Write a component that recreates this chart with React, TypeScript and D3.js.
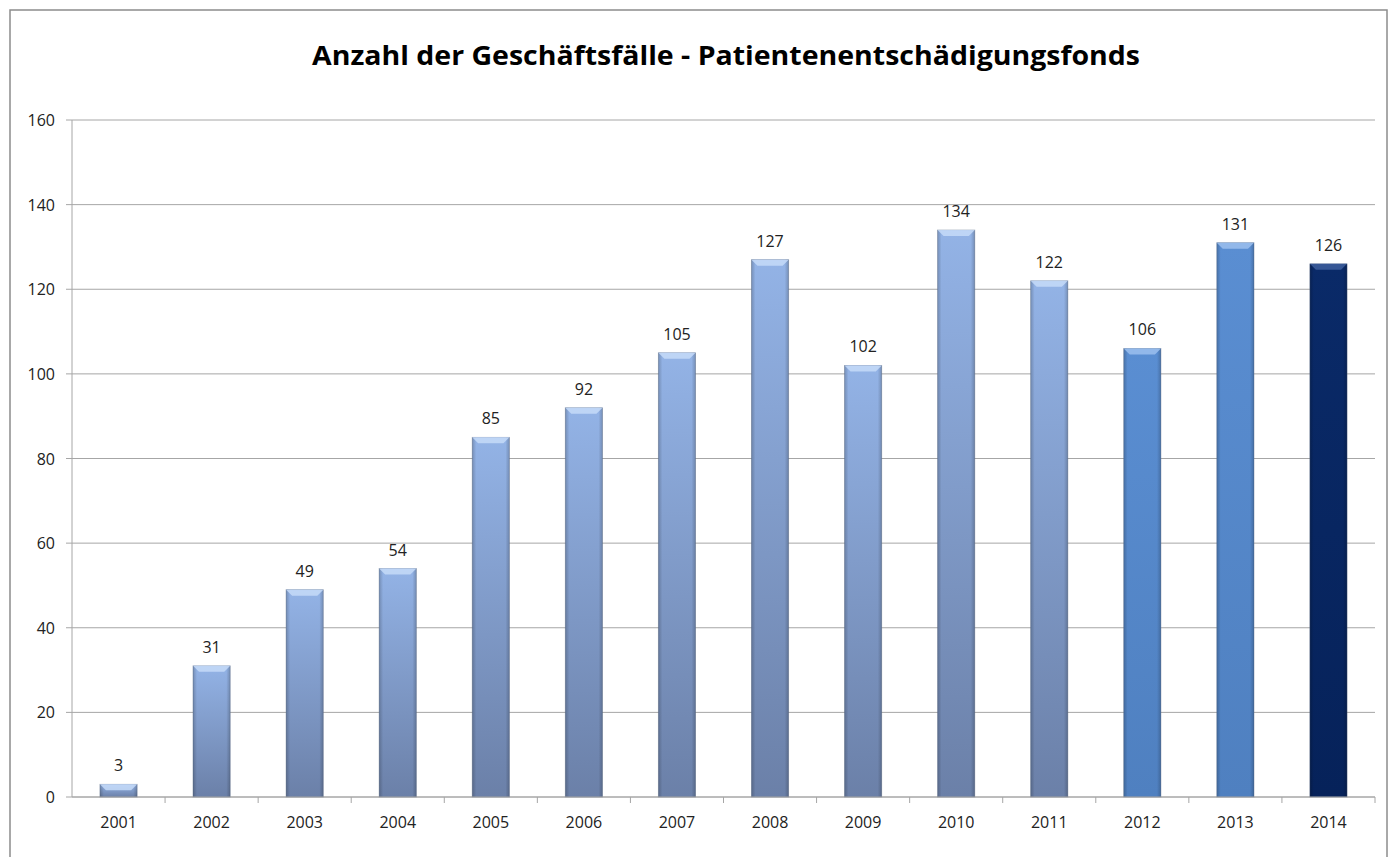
import React from 'react';
import * as d3 from 'd3';

const years = ['2001', '2002', '2003', '2004', '2005', '2006', '2007', '2008', '2009', '2010', '2011', '2012', '2013', '2014'];
const cases = [3, 31, 49, 54, 85, 92, 105, 127, 102, 134, 122, 106, 131, 126];
const barStyle = ['soft', 'soft', 'soft', 'soft', 'soft', 'soft', 'soft', 'soft', 'soft', 'soft', 'soft', 'mid', 'mid', 'dark'];
const yTicks = [0, 20, 40, 60, 80, 100, 120, 140, 160];
const title = 'Anzahl der Geschäftsfälle - Patientenentschädigungsfonds';

const W = 1389;
const H = 857;
const margin = { top: 120, right: 14, bottom: 60, left: 72 };

export default function App() {
  const x = d3.scaleBand().domain(years).range([margin.left, W - margin.right]).paddingInner(0.6).paddingOuter(0.3);
  const band = d3.scaleBand().domain(years).range([margin.left, W - margin.right]);
  const y = d3.scaleLinear().domain([0, 160]).range([H - margin.bottom, margin.top]);
  const bw = x.bandwidth();
  const font = '"Open Sans", sans-serif';

  return (
    <div style={{ position: 'absolute', left: 0, top: 0 }}>
      <svg width={W} height={H} style={{ display: 'block' }}>
        <defs>
          <linearGradient id="g-soft" x1="0" y1="0" x2="0" y2="1">
            <stop offset="0" stopColor="#93b3e6" />
            <stop offset="1" stopColor="#6b80a8" />
          </linearGradient>
          <linearGradient id="g-mid" x1="0" y1="0" x2="0" y2="1">
            <stop offset="0" stopColor="#5a8ed2" />
            <stop offset="1" stopColor="#4f80c0" />
          </linearGradient>
          <linearGradient id="g-dark" x1="0" y1="0" x2="0" y2="1">
            <stop offset="0" stopColor="#0a2a68" />
            <stop offset="1" stopColor="#06225a" />
          </linearGradient>
          <linearGradient id="side-l" x1="0" y1="0" x2="1" y2="0">
            <stop offset="0" stopColor="#000" stopOpacity="0.2" />
            <stop offset="1" stopColor="#000" stopOpacity="0" />
          </linearGradient>
          <linearGradient id="side-r" x1="0" y1="0" x2="1" y2="0">
            <stop offset="0" stopColor="#000" stopOpacity="0" />
            <stop offset="1" stopColor="#000" stopOpacity="0.2" />
          </linearGradient>
        </defs>
        <rect x={10} y={10} width={1377} height={H + 20} fill="#fff" stroke="#8c8c8c" strokeWidth={1.5} />
        <text x={726} y={65} textAnchor="middle" fontFamily={font} fontWeight="bold" fontSize={27}
          textLength={828} lengthAdjust="spacingAndGlyphs" fill="#000">{title}</text>

        {yTicks.map(t => (
          <g key={t}>
            <line x1={margin.left} x2={W - margin.right} y1={y(t)} y2={y(t)} stroke="#a6a6a6" strokeWidth={1} />
            <line x1={margin.left - 6} x2={margin.left} y1={y(t)} y2={y(t)} stroke="#a6a6a6" />
            <text x={55} y={y(t) + 6} textAnchor="end" fontFamily={font} fontSize={16} fill="#222">{t}</text>
          </g>
        ))}
        <line x1={margin.left} x2={margin.left} y1={margin.top} y2={y(0)} stroke="#a6a6a6" />

        {years.map((yr, i) => {
          const x0 = x(yr) as number;
          const top = y(cases[i]);
          const h = y(0) - top;
          const bevel = Math.min(6, h / 2);
          const s = barStyle[i];
          const topCol = s === 'soft' ? '#c6dbf8' : s === 'mid' ? '#9cc0ee' : '#3e5f9e';
          return (
            <g key={yr}>
              <rect x={x0} y={top} width={bw} height={h} fill={`url(#g-${s})`} stroke="#5f6f8c" strokeOpacity={0.5} strokeWidth={0.8} />
              <rect x={x0} y={top} width={4} height={h} fill="url(#side-l)" />
              <rect x={x0 + bw - 4} y={top} width={4} height={h} fill="url(#side-r)" />
              <polygon
                points={`${x0},${top} ${x0 + bw},${top} ${x0 + bw - bevel},${top + bevel} ${x0 + bevel},${top + bevel}`}
                fill={topCol} opacity={0.85} />
              <text x={x0 + bw / 2} y={top - 13} textAnchor="middle" fontFamily={font} fontSize={16} fill="#222">{cases[i]}</text>
            </g>
          );
        })}

        <line x1={margin.left} x2={W - margin.right} y1={y(0)} y2={y(0)} stroke="#a6a6a6" />
        {years.map(yr => (
          <line key={'t' + yr} x1={(band(yr) as number) + band.bandwidth()} x2={(band(yr) as number) + band.bandwidth()}
            y1={y(0)} y2={y(0) + 6} stroke="#a6a6a6" />
        ))}
        {years.map(yr => (
          <text key={'l' + yr} x={(band(yr) as number) + band.bandwidth() / 2} y={y(0) + 31} textAnchor="middle"
            fontFamily={font} fontSize={16} fill="#222">{yr}</text>
        ))}
      </svg>
    </div>
  );
}
